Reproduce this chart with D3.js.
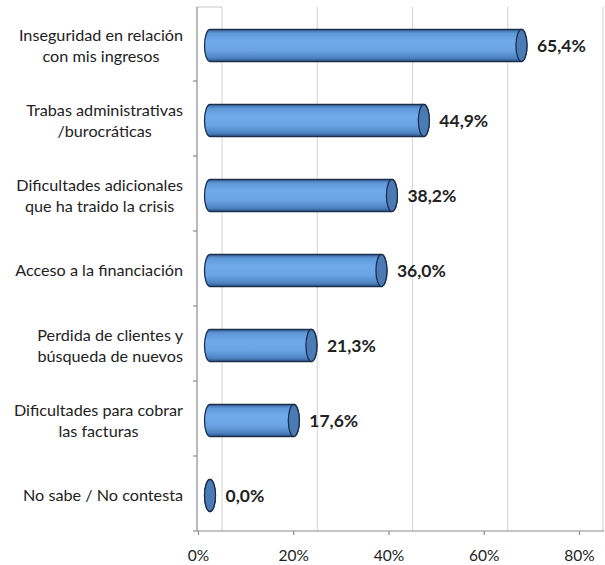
<!DOCTYPE html>
<html>
<head>
<meta charset="utf-8">
<script src="https://cdn.jsdelivr.net/npm/d3@7/dist/d3.min.js"></script>
<style>
  html, body { margin: 0; padding: 0; background: #fff; }
  svg { display: block; }
  text { font-family: Lato, "Open Sans", sans-serif; fill: #222; }
</style>
</head>
<body>
<svg id="chart" width="605" height="565"></svg>
<script>
// ---- data ----
const categories = [
  ["Inseguridad en relación", "con mis ingresos"],
  ["Trabas administrativas", "/burocráticas"],
  ["Dificultades adicionales", "que ha traido la crisis"],
  ["Acceso a la financiación"],
  ["Perdida de clientes y", "búsqueda de nuevos"],
  ["Dificultades para cobrar", "las facturas"],
  ["No sabe / No contesta"]
];
const values = [65.4, 44.9, 38.2, 36.0, 21.3, 17.6, 0.0];
const valueLabels = ["65,4%", "44,9%", "38,2%", "36,0%", "21,3%", "17,6%", "0,0%"];
const tickValues = [0, 20, 40, 60, 80];
const tickLabels = ["0%", "20%", "40%", "60%", "80%"];

// ---- layout ----
const svg = d3.select("#chart");
const depth = 24;            // 3D depth offset of back wall
const barOff = depth / 2;    // bars sit mid-depth
const x = d3.scaleLinear().domain([0, 80]).range([198, 579]);
const y = d3.scaleBand().domain(d3.range(categories.length)).range([8, 533]).padding(0);
const ry = 16, rx = 5.5;

// gradient
const defs = svg.append("defs");
const grad = defs.append("linearGradient").attr("id", "cyl").attr("x1", 0).attr("y1", 0).attr("x2", 0).attr("y2", 1);
[[0, "#3a679f"], [0.12, "#5f98d8"], [0.35, "#70aaec"], [0.65, "#6aa4e4"], [0.88, "#4f85c4"], [1, "#2f5a8f"]]
  .forEach(([o, c]) => grad.append("stop").attr("offset", o).attr("stop-color", c));

const plotTop = y.range()[0] - 1, plotBottom = y.range()[1] - 2;

// back wall gridlines
svg.append("g").selectAll("line").data(tickValues).join("line")
  .attr("x1", d => x(d) + depth).attr("x2", d => x(d) + depth)
  .attr("y1", plotTop).attr("y2", plotBottom)
  .attr("stroke", "#d9d9d9").attr("stroke-width", 1.2);

// left side wall top edge
svg.append("line").attr("x1", x(0) - 1).attr("x2", x(0) + depth).attr("y1", plotTop).attr("y2", plotTop)
  .attr("stroke", "#c8c8c8").attr("stroke-width", 1);

// left axis line
svg.append("line").attr("x1", x(0) - 1).attr("x2", x(0) - 1).attr("y1", plotTop).attr("y2", plotBottom)
  .attr("stroke", "#8c8c8c").attr("stroke-width", 1.2);
// left axis ticks at band boundaries
const bounds = categories.map((c, i) => y(i)).concat([y.range()[1]]);
svg.append("g").selectAll("line").data(bounds.slice(1)).join("line")
  .attr("x1", x(0) - 5).attr("x2", x(0) - 1)
  .attr("y1", d => d - 2).attr("y2", d => d - 2)
  .attr("stroke", "#8c8c8c").attr("stroke-width", 1.2);

// bottom axis
const xAxis = d3.axisBottom(x).tickValues(tickValues).tickFormat((d, i) => tickLabels[i])
  .tickSize(4).tickSizeOuter(0).tickPadding(15);
const gx = svg.append("g").attr("transform", `translate(0,${plotBottom})`).call(xAxis);
gx.select(".domain").remove();
gx.selectAll(".tick line").attr("stroke", "#8c8c8c").attr("stroke-width", 1.2);
gx.selectAll(".tick text").style("font-family", "Lato, 'Open Sans', sans-serif")
  .style("font-size", "15.5px").attr("fill", "#222");
svg.append("line").attr("x1", x(0) - 1).attr("x2", x(80) + depth + 1).attr("y1", plotBottom).attr("y2", plotBottom)
  .attr("stroke", "#8c8c8c").attr("stroke-width", 1.2);

// bars (cylinders)
const bars = svg.append("g").selectAll("g").data(values).join("g");
bars.append("path")
  .attr("d", (d, i) => {
    const cy = y(i) + y.bandwidth() / 2;
    const x0 = x(0) + barOff, x1 = x(d) + barOff;
    return `M${x0},${cy - ry} L${x1},${cy - ry} A${rx},${ry} 0 0 1 ${x1},${cy + ry} L${x0},${cy + ry} A${rx},${ry} 0 0 1 ${x0},${cy - ry} Z`;
  })
  .attr("fill", "url(#cyl)").attr("stroke", "#1c2e4e").attr("stroke-width", 1.3);
bars.append("ellipse")
  .attr("cx", d => x(d) + barOff)
  .attr("cy", (d, i) => y(i) + y.bandwidth() / 2)
  .attr("rx", rx).attr("ry", ry)
  .attr("fill", "#4a7bb5").attr("stroke", "#1c2e4e").attr("stroke-width", 1.3);

// value labels
bars.append("text")
  .attr("x", d => x(d) + barOff + rx + 10)
  .attr("y", (d, i) => y(i) + y.bandwidth() / 2 + 6.5)
  .style("font-size", "17.5px").style("font-weight", "bold")
  .text((d, i) => valueLabels[i]);

// category labels (block right-aligned, lines centered)
const rightEdge = 183;
const catG = svg.append("g").selectAll("g").data(categories).join("g");
catG.each(function (lines, i) {
  const g = d3.select(this);
  const cy = y(i) + y.bandwidth() / 2;
  const lh = 21;
  const texts = lines.map((ln, k) => g.append("text")
    .attr("y", cy + (k - (lines.length - 1) / 2) * lh + 5.5)
    .style("font-size", "16.2px")
    .attr("text-anchor", "middle")
    .text(ln));
  const maxW = d3.max(texts, t => t.node().getComputedTextLength());
  texts.forEach(t => t.attr("x", rightEdge - maxW / 2));
});
</script>
</body>
</html>
